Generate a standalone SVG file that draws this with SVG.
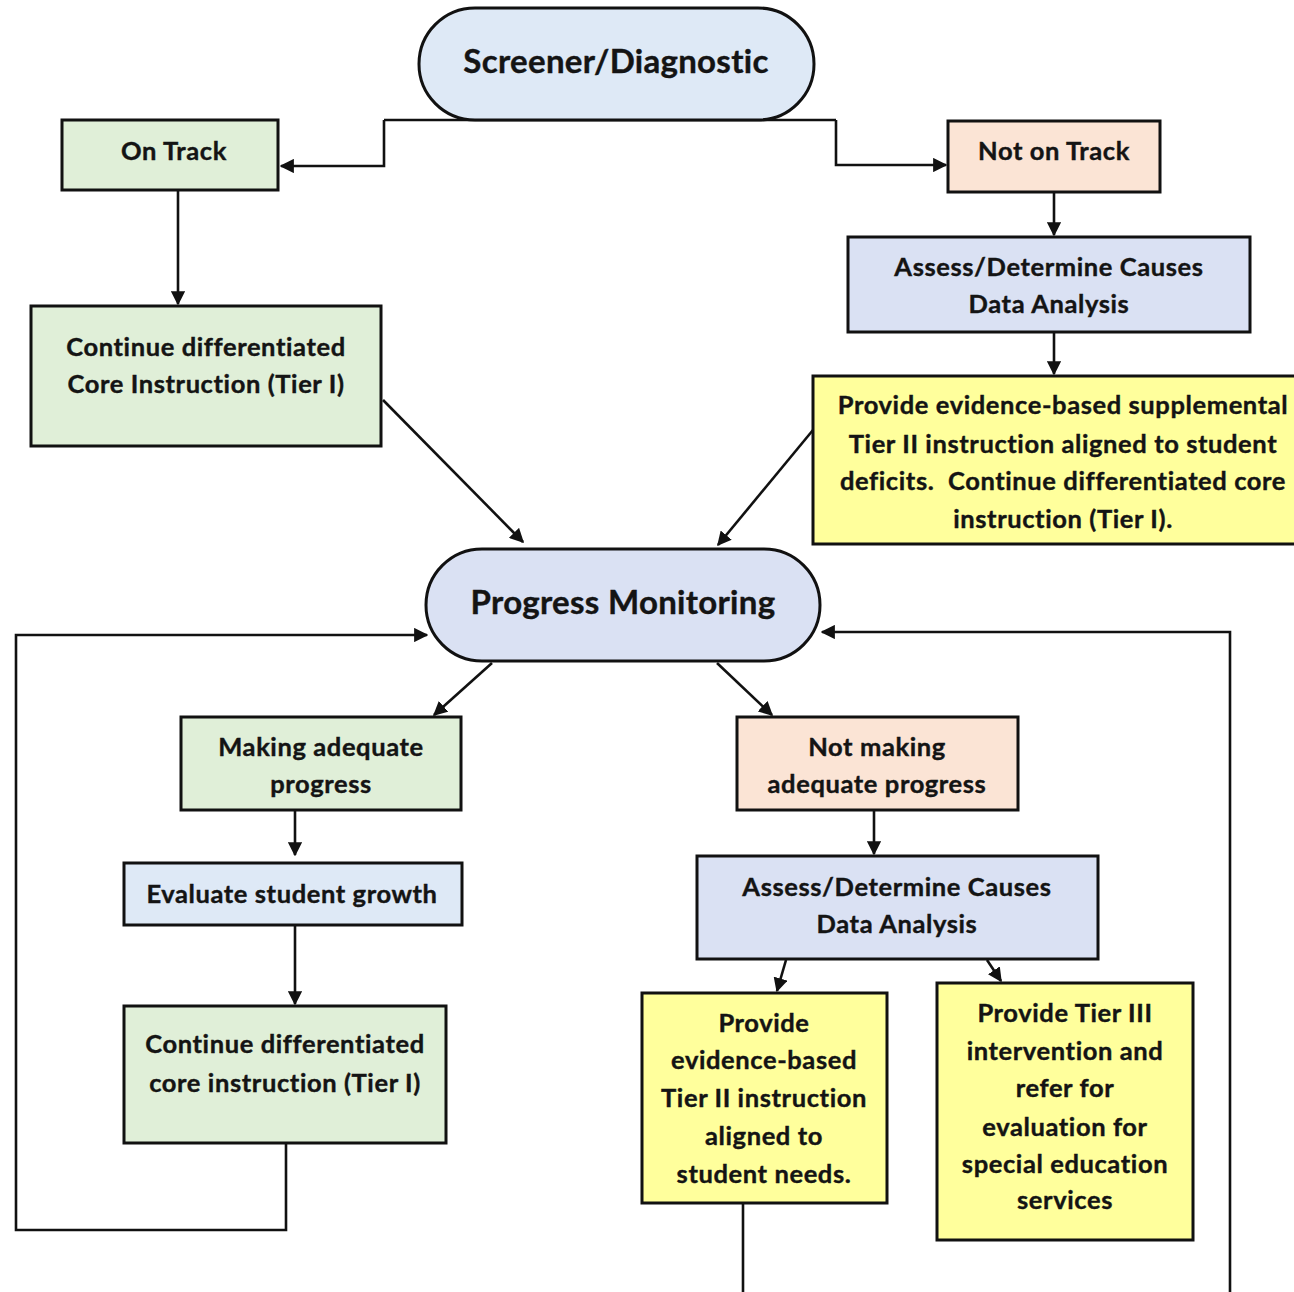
<svg xmlns="http://www.w3.org/2000/svg" width="1294" height="1292" viewBox="0 0 1294 1292">
<style>
.t{font-family:Lato,"Open Sans","DejaVu Sans",sans-serif;font-weight:bold;fill:#141414;stroke:#141414;stroke-width:0.4;text-anchor:middle}
.s{font-size:25.5px;letter-spacing:0.6px}
.b{font-size:33px;letter-spacing:0.3px}
.n{stroke:#111;stroke-width:3}
.g{fill:#e0efd8}.p{fill:#fbe4d5}.l{fill:#dae1f3}.lb{fill:#dee9f6}.y{fill:#ffff9c}
.c{fill:none;stroke:#111;stroke-width:2.6}
</style>
<defs>
<marker id="a" viewBox="0 0 10 10" refX="9" refY="5" markerWidth="5.5" markerHeight="5.5" orient="auto" markerUnits="strokeWidth">
<path d="M0,0 L10,5 L0,10 z" fill="#111"/>
</marker>
</defs>
<rect width="1294" height="1292" fill="#fff"/>
<g id="connectors">
<path class="c" d="M384,120 H836"/>
<path class="c" d="M384,120 V166 H281" marker-end="url(#a)"/>
<path class="c" d="M836,120 V165 H946" marker-end="url(#a)"/>
<path class="c" d="M178,190 V304" marker-end="url(#a)"/>
<path class="c" d="M1054,192 V235" marker-end="url(#a)"/>
<path class="c" d="M1054,332 V374" marker-end="url(#a)"/>
<path class="c" d="M383,400 L523,542" marker-end="url(#a)"/>
<path class="c" d="M813,430 L718,545" marker-end="url(#a)"/>
<path class="c" d="M286,1143 V1230 H16 V635 H427" marker-end="url(#a)"/>
<path class="c" d="M743,1200 V1296 H1230 V632 H822" marker-end="url(#a)"/>
<path class="c" d="M492,663 L434,715" marker-end="url(#a)"/>
<path class="c" d="M717,663 L772,715" marker-end="url(#a)"/>
<path class="c" d="M295,810 V855" marker-end="url(#a)"/>
<path class="c" d="M295,925 V1004" marker-end="url(#a)"/>
<path class="c" d="M874,810 V854" marker-end="url(#a)"/>
<path class="c" d="M786,960 L777,991" marker-end="url(#a)"/>
<path class="c" d="M987,960 L1001,981" marker-end="url(#a)"/>
</g>
<g id="screener">
<rect class="n lb" x="419" y="8" width="395" height="112" rx="56" stroke-width="4"/>
<text class="t b" x="616" y="73">Screener/Diagnostic</text>
</g>
<g id="ontrack">
<rect class="n g" x="62" y="120" width="216" height="70"/>
<text class="t s" x="174" y="160">On Track</text>
</g>
<g id="notontrack">
<rect class="n p" x="948" y="121" width="212" height="71"/>
<text class="t s" x="1054" y="160">Not on Track</text>
</g>
<g id="core1">
<rect class="n g" x="31" y="306" width="350" height="140"/>
<text class="t s" x="206" y="356">Continue differentiated</text>
<text class="t s" x="206" y="393">Core Instruction (Tier I)</text>
</g>
<g id="assess1">
<rect class="n l" x="848" y="237" width="402" height="95"/>
<text class="t s" x="1049" y="276">Assess/Determine Causes</text>
<text class="t s" x="1049" y="313">Data Analysis</text>
</g>
<g id="tier2a">
<rect class="n y" x="813" y="376" width="484" height="168"/>
<text class="t s" x="1063" y="414">Provide evidence-based supplemental</text>
<text class="t s" x="1063" y="453">Tier II instruction aligned to student</text>
<text class="t s" x="1063" y="490">deficits.&#160; Continue differentiated core</text>
<text class="t s" x="1063" y="528">instruction (Tier I).</text>
</g>
<g id="progress">
<rect class="n l" x="426" y="549" width="394" height="112" rx="56" stroke-width="4"/>
<text class="t b" x="623" y="614">Progress Monitoring</text>
</g>
<g id="making">
<rect class="n g" x="181" y="717" width="280" height="93"/>
<text class="t s" x="321" y="756">Making adequate</text>
<text class="t s" x="321" y="793">progress</text>
</g>
<g id="evaluate">
<rect class="n lb" x="124" y="863" width="338" height="62"/>
<text class="t s" x="292" y="903">Evaluate student growth</text>
</g>
<g id="core2">
<rect class="n g" x="124" y="1006" width="322" height="137"/>
<text class="t s" x="285" y="1053">Continue differentiated</text>
<text class="t s" x="285" y="1092">core instruction (Tier I)</text>
</g>
<g id="notmaking">
<rect class="n p" x="737" y="717" width="281" height="93"/>
<text class="t s" x="877" y="756">Not making</text>
<text class="t s" x="877" y="793">adequate progress</text>
</g>
<g id="assess2">
<rect class="n l" x="697" y="856" width="401" height="103"/>
<text class="t s" x="897" y="896">Assess/Determine Causes</text>
<text class="t s" x="897" y="933">Data Analysis</text>
</g>
<g id="tier2b">
<rect class="n y" x="642" y="993" width="245" height="210"/>
<text class="t s" x="764" y="1032">Provide</text>
<text class="t s" x="764" y="1069">evidence-based</text>
<text class="t s" x="764" y="1107">Tier II instruction</text>
<text class="t s" x="764" y="1145">aligned to</text>
<text class="t s" x="764" y="1183">student needs.</text>
</g>
<g id="tier3">
<rect class="n y" x="937" y="983" width="256" height="257"/>
<text class="t s" x="1065" y="1022">Provide Tier III</text>
<text class="t s" x="1065" y="1060">intervention and</text>
<text class="t s" x="1065" y="1097">refer for</text>
<text class="t s" x="1065" y="1136">evaluation for</text>
<text class="t s" x="1065" y="1173">special education</text>
<text class="t s" x="1065" y="1209">services</text>
</g>
</svg>
